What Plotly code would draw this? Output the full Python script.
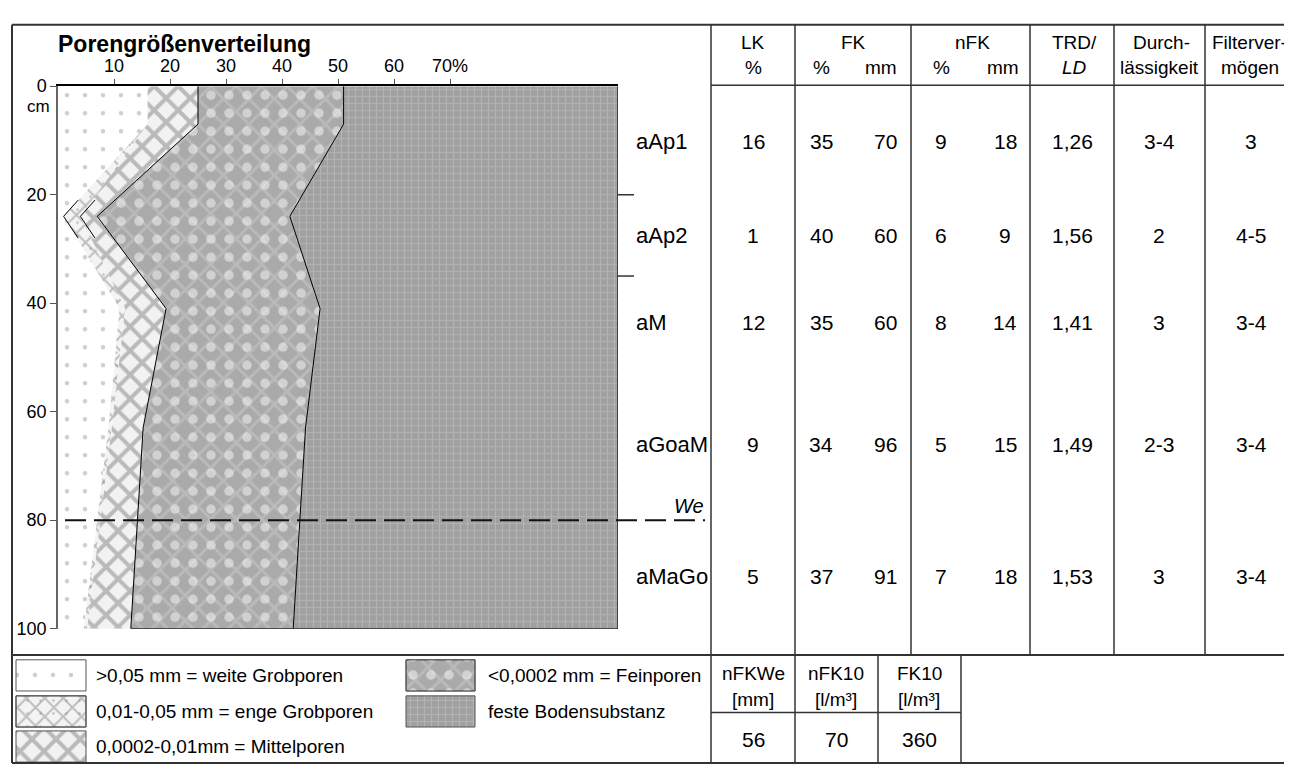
import plotly.graph_objects as go

W, H = 1292, 767
FONT = "Liberation Sans, Arial, Helvetica, sans-serif"

# ---------------- data ----------------
title_text = "Porengrößenverteilung"
x_tick_vals = [10, 20, 30, 40, 50, 60, 70]
x_tick_text = ["10", "20", "30", "40", "50", "60", "70%"]
y_tick_vals = [0, 20, 40, 60, 80, 100]

# profile vertices (depth in cm) and cumulative pore-class boundaries (%)
vertex_depth = [0, 7, 24, 41, 63, 100]
weite_bound = [16, 16, 1, 11, 9, 4.6]
enge_bound = [16, 16, 4, 12, 9.6, 5.2]
mittel_bound = [25, 25, 7, 19.3, 15.2, 13]
fein_bound = [51, 51, 41.4, 46.8, 44.2, 42]

horizons = ["aAp1", "aAp2", "aM", "aGoaM", "aMaGo"]
horizon_mid = [10.2, 27.5, 43.5, 66, 90.3]
horizon_lines = [20, 35]
we_depth = 80

LK = [16, 1, 12, 9, 5]
FK_pct = [35, 40, 35, 34, 37]
FK_mm = [70, 60, 60, 96, 91]
nFK_pct = [9, 6, 8, 5, 7]
nFK_mm = [18, 9, 14, 15, 18]
TRD = ["1,26", "1,56", "1,41", "1,49", "1,53"]
durchl = ["3-4", "2", "3", "2-3", "3"]
filterv = ["3", "4-5", "3-4", "3-4", "3-4"]

legend_labels = [">0,05 mm = weite Grobporen",
                 "0,01-0,05 mm = enge Grobporen",
                 "0,0002-0,01mm = Mittelporen",
                 "<0,0002 mm = Feinporen",
                 "feste Bodensubstanz"]

summary_head1 = ["nFKWe", "nFK10", "FK10"]
summary_head2 = ["[mm]", "[l/m³]", "[l/m³]"]
summary_vals = [56, 70, 360]

# ---------------- styles (each class: list of stacked pattern layers) ----------------
patterns = {
    "weite": [dict(shape=".", bgcolor="#ffffff", fgcolor="#a0a0a0", size=18, solidity=0.05)],
    "enge": [dict(shape="x", bgcolor="#f4f4f4", fgcolor="#8a8a8a", size=13, solidity=0.3),
             dict(shape=".", bgcolor="rgba(0,0,0,0)", fgcolor="#8a8a8a", size=13, solidity=0.03)],
    "mittel": [dict(shape="x", bgcolor="#f2f2f2", fgcolor="#828282", size=17, solidity=0.42)],
    "fein": [dict(shape="x", bgcolor="#aaaaaa", fgcolor="#cacaca", size=18, solidity=0.3),
             dict(shape=".", bgcolor="rgba(0,0,0,0)", fgcolor="#f8f8f8", size=18, solidity=0.22)],
    "feste": [dict(shape="+", bgcolor="#a0a0a0", fgcolor="#c6c6c6", size=7, solidity=0.3)],
}

fig = go.Figure()


def band(left, right, depths):
    xs = list(left) + list(right)[::-1]
    ys = list(depths) + list(depths)[::-1]
    return xs + [xs[0]], ys + [ys[0]]


n = len(vertex_depth)
bands = [
    ("weite", [0] * n, weite_bound),
    ("enge", weite_bound, enge_bound),
    ("mittel", enge_bound, mittel_bound),
    ("fein", mittel_bound, fein_bound),
    ("feste", fein_bound, [100] * n),
]
for key, lft, rgt in bands:
    xs, ys = band(lft, rgt, vertex_depth)
    for layer in patterns[key]:
        fig.add_trace(go.Scatter(x=xs, y=ys, mode="lines", fill="toself",
                                 fillcolor=layer["bgcolor"], fillpattern=layer,
                                 line=dict(width=0), hoverinfo="skip", showlegend=False))

# black boundary lines
fig.add_trace(go.Scatter(x=mittel_bound + [100], y=vertex_depth + [100], mode="lines",
                         line=dict(color="black", width=1), hoverinfo="skip",
                         showlegend=False, cliponaxis=False))
fig.add_trace(go.Scatter(x=fein_bound, y=vertex_depth, mode="lines",
                         line=dict(color="black", width=1), hoverinfo="skip",
                         showlegend=False, cliponaxis=False))
fig.add_trace(go.Scatter(x=[100, 100], y=[0, 100], mode="lines",
                         line=dict(color="black", width=1.2), hoverinfo="skip",
                         showlegend=False, cliponaxis=False))
# short zig-zag marks at the aAp2 vertex
zi = 2
for b in (weite_bound, enge_bound):
    fig.add_trace(go.Scatter(x=[b[zi] + 2.6, b[zi], b[zi] + 2.6],
                             y=[vertex_depth[zi] - 3, vertex_depth[zi], vertex_depth[zi] + 4],
                             mode="lines", line=dict(color="black", width=1),
                             hoverinfo="skip", showlegend=False))


# ---------------- overlay pixel axis for table / legend ----------------
def rect_traces(x0, y0, x1, y1, key):
    out = []
    for layer in patterns[key]:
        out.append(go.Scatter(x=[x0, x1, x1, x0, x0], y=[y0, y0, y1, y1, y0], mode="lines",
                              fill="toself", fillcolor=layer["bgcolor"], fillpattern=layer,
                              line=dict(color="#555555", width=1), hoverinfo="skip",
                              showlegend=False, xaxis="x2", yaxis="y2"))
    return out


leg_rows = [675, 712, 748]
sw_h = 32
legend_pos = [(8, 78, leg_rows[0]), (8, 78, leg_rows[1]), (8, 78, leg_rows[2]),
              (398, 467, leg_rows[0]), (398, 467, leg_rows[1])]
legend_keys = ["weite", "enge", "mittel", "fein", "feste"]
for (x0, x1, yc), key in zip(legend_pos, legend_keys):
    for tr in rect_traces(x0, yc - sw_h / 2, x1, yc + sw_h / 2, key):
        fig.add_trace(tr)

annotations = []


def txt(x, y, s, size=19, xanchor="center", xref="x2", yref="y2", **kw):
    annotations.append(dict(x=x, y=y, text=s, xref=xref, yref=yref, showarrow=False,
                            xanchor=xanchor, yanchor="middle",
                            font=dict(family=FONT, size=size, color="black"), **kw))


for (x0, x1, yc), lab in zip(legend_pos, legend_labels):
    txt(x1 + (8 if x0 < 100 else 11), yc, lab, size=19, xanchor="left")

# title and cm
txt(48, 27, "<b>" + title_text + "</b>", size=23, xanchor="left")
txt(44, 91, "cm", size=17, xanchor="right")

# table header
head_y1, head_y2 = 25, 51
txt(745, head_y1, "LK"); txt(745, head_y2, "%")
txt(845, head_y1, "FK"); txt(813, head_y2, "%"); txt(873, head_y2, "mm")
txt(964, head_y1, "nFK"); txt(933, head_y2, "%"); txt(995, head_y2, "mm")
txt(1066, head_y1, "TRD/"); txt(1066, head_y2, "<i>LD</i>")
txt(1153, head_y1, "Durch-"); txt(1151, head_y2, "lässigkeit")
txt(1241, head_y1, "Filterver-"); txt(1242, head_y2, "mögen")

# horizon labels and table values (y through the depth axis)
cols = [(745, LK), (813, FK_pct), (877, FK_mm), (933, nFK_pct), (997, nFK_mm),
        (1064, TRD), (1151, durchl), (1243, filterv)]
for i, hz in enumerate(horizons):
    txt(626, horizon_mid[i], hz, size=22, xanchor="left", yref="y")
    for cx, arr in cols:
        txt(cx, horizon_mid[i], str(arr[i]), size=21, yref="y")

txt(681, we_depth - 2.6, "<i>We</i>", size=20, yref="y")

# summary table
sum_x = [745, 828, 911]
for sx, h1, h2, v in zip(sum_x, summary_head1, summary_head2, summary_vals):
    txt(sx, 673, h1, size=19)
    txt(sx, 700, h2, size=19)
    txt(sx, 741, str(v), size=21)

# ---------------- shapes (table lines) ----------------
shapes = []
LC = "#333333"


def hline(x0, x1, y, w=1.5):
    shapes.append(dict(type="line", xref="x2", yref="y2", x0=x0, x1=x1, y0=y, y1=y,
                       line=dict(color=LC, width=w)))


def vline(x, y0, y1, w=1.5):
    shapes.append(dict(type="line", xref="x2", yref="y2", x0=x, x1=x, y0=y0, y1=y1,
                       line=dict(color=LC, width=w)))


top, bot, left, right = 7, 765, 4, 1288
hline(left, right, top, 2); hline(left, right, bot, 2)
vline(left, top, bot, 2); vline(right, top, bot, 2)
hline(left, right, 654, 2)
hline(703, right, 69)
for x in [703, 787, 903, 1022, 1106, 1197]:
    vline(x, top, 654)
vline(703, 654, bot)
for x in [787, 870, 953]:
    vline(x, 654, bot)
hline(703, 953, 713)

# horizon boundary ticks and We line (depth axis)
for d in horizon_lines:
    shapes.append(dict(type="line", xref="paper", yref="y", x0=609 / W, x1=626 / W, y0=d, y1=d,
                       line=dict(color=LC, width=1.5)))
shapes.append(dict(type="line", xref="paper", yref="y", x0=57 / W, x1=697 / W,
                   y0=we_depth, y1=we_depth, line=dict(color="#111111", width=2, dash="21px,8px")))

axis_font = dict(family=FONT, size=18, color="black")
fig.update_layout(
    width=W, height=H, margin=dict(l=0, r=0, t=0, b=0),
    paper_bgcolor="white", plot_bgcolor="rgba(0,0,0,0)",
    showlegend=False,
    xaxis=dict(domain=[50 / W, 610 / W], range=[0, 100], side="top",
               tickmode="array", tickvals=x_tick_vals, ticktext=x_tick_text,
               ticks="outside", ticklen=5, tickcolor="#555555", tickwidth=1,
               showline=True, linecolor="black", linewidth=2,
               showgrid=False, zeroline=False, tickfont=axis_font, fixedrange=True),
    yaxis=dict(domain=[1 - 627 / H, 1 - 70 / H], range=[100, 0],
               tickmode="array", tickvals=y_tick_vals,
               ticks="outside", ticklen=6, tickcolor="#555555", tickwidth=1,
               showline=True, linecolor="#666666", linewidth=1.5,
               showgrid=False, zeroline=False, tickfont=axis_font, fixedrange=True),
    xaxis2=dict(domain=[0, 1], range=[0, W], anchor="y2", visible=False, fixedrange=True),
    yaxis2=dict(domain=[0, 1], range=[H, 0], anchor="x2", visible=False, fixedrange=True),
    annotations=annotations,
    shapes=shapes,
)

fig.write_html("out.html")
